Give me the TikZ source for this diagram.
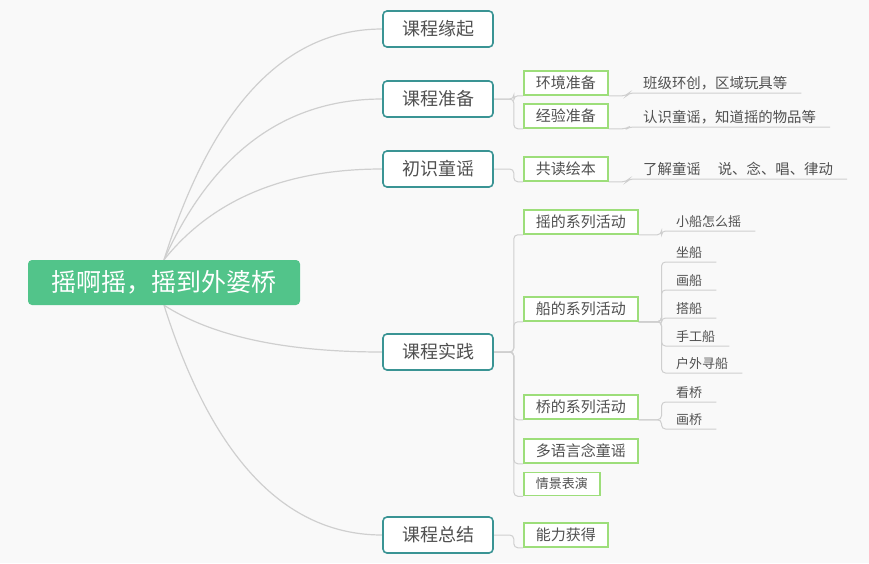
\documentclass[tikz,border=0pt]{standalone}
\usepackage{fontspec}
\setmainfont{Noto Sans CJK SC}
\usetikzlibrary{
  backgrounds,
  calc,
  positioning,
}
\definecolor{bggray}{RGB}{249, 249, 249}
\definecolor{rootgreen}{RGB}{82, 196, 138}
\definecolor{mapteal}{RGB}{58, 148, 148}
\definecolor{leafgreen}{RGB}{157, 222, 122}
\definecolor{linegray}{RGB}{207, 207, 207}
\definecolor{inkgray}{RGB}{80, 80, 80}
\tikzstyle{rootbox} = [
  fill=rootgreen,
  rounded corners=4pt,
  text=white,
  minimum width=272pt,
  minimum height=45pt,
  font=\fontsize{25pt}{25pt}\selectfont,
]
\tikzstyle{topic} = [
  draw=mapteal,
  line width=1.6pt,
  fill=white,
  rounded corners=4pt,
  minimum width=110pt,
  minimum height=36pt,
  text=inkgray,
  font=\fontsize{18pt}{18pt}\selectfont,
]
\tikzstyle{subtopic} = [
  draw=leafgreen,
  line width=1.5pt,
  fill=white,
  inner xsep=12pt,
  minimum height=24pt,
  anchor=west,
  text=inkgray,
  font=\fontsize{15pt}{15pt}\selectfont,
]
\tikzstyle{leaf} = [
  inner xsep=14pt,
  inner ysep=3pt,
  anchor=south west,
  text=inkgray,
  font=\fontsize{14.4pt}{14.4pt}\selectfont,
]
\tikzstyle{twigleaf} = [
  leaf,
  font=\fontsize{13pt}{13pt}\selectfont,
]
\tikzstyle{bough} = [
  linegray,
  line width=1.2pt,
  to path={let \p1=(\tikztostart), \p2=(\tikztotarget) in
    .. controls ({\x1+2/9*(\x2-\x1)}, {\y1+2/3*(\y2-\y1)})
    and ({\x2-4/9*(\x2-\x1)}, \y2) .. (\tikztotarget)},
]
\tikzstyle{twig} = [
  linegray,
  line width=1pt,
  rounded corners=4pt,
]

\begin{document}
\begin{tikzpicture}[x=1pt, y=-1pt]

        \useasboundingbox (0,0) rectangle (869,563);

        \node [rootbox] (root) at (164,282.5) {摇啊摇，摇到外婆桥};

        \node [topic] (origin) at (438,29) {课程缘起};
        \node [topic] (prep) at (438,99) {课程准备};
        \node [topic] (meet) at (438,169) {初识童谣};
        \node [topic] (prac) at (438,352) {课程实践};
        \node [topic] (sum) at (438,535) {课程总结};

        \node [subtopic] (env) at (523,83) {环境准备};
        \node [subtopic] (exp) at (523,116) {经验准备};
        \node [subtopic] (read) at (523,169) {共读绘本};
        \node [subtopic] (shake) at (523,222) {摇的系列活动};
        \node [subtopic] (boat) at (523,309) {船的系列活动};
        \node [subtopic] (bridge) at (523,407) {桥的系列活动};
        \node [subtopic] (rhyme) at (523,451) {多语言念童谣};
        \node [subtopic, minimum height=23pt,
               font=\fontsize{13pt}{13pt}\selectfont] (play) at (523,484) {情景表演};
        \node [subtopic] (skill) at (523,535) {能力获得};

        \node [leaf] (envt) at (629,93) {班级环创，区域玩具等};
        \node [leaf] (expt) at (629,127) {认识童谣，知道摇的物品等};
        \node [leaf] (readt) at (629,179) {了解童谣\hspace{17pt}说、念、唱、律动};

        \node [twigleaf] (howrow) at (662,231) {小船怎么摇};
        \node [twigleaf] (sit) at (662,262) {坐船};
        \node [twigleaf] (paint) at (662,290) {画船};
        \node [twigleaf] (build) at (662,318) {搭船};
        \node [twigleaf] (craft) at (662,346) {手工船};
        \node [twigleaf] (seek) at (662,373) {户外寻船};
        \node [twigleaf] (look) at (662,402) {看桥};
        \node [twigleaf] (sketch) at (662,429) {画桥};

        \begin{scope}[on background layer]
          \fill [bggray] (0,0) rectangle (869,563);

          \foreach \t in {origin,prep,meet} {
            \draw [bough] (root.north) to (\t.west);
          }
          \foreach \t in {prac,sum} {
            \draw [bough] (root.south) to (\t.west);
          }

          \foreach \t in {env,exp} {
            \draw [twig] (prep.east) -- ++(20,0) |- (\t.south west);
          }
          \draw [twig] (meet.east) -- ++(20,0) |- (read.south west);
          \foreach \t in {shake,boat,bridge,rhyme,play} {
            \draw [twig] (prac.east) -- ++(20,0) |- (\t.south west);
          }
          \draw [twig] (sum.east) -- ++(20,0) |- (skill.south west);

          \foreach \s/\t in {env/envt,exp/expt,read/readt} {
            \draw [twig] (\s.south east) -- ++(18,0) -- (\t.south west) -- (\t.south east);
          }
          \draw [twig] (shake.south east) -- ++(23,0) |- (howrow.south east);
          \foreach \t in {sit,paint,build,craft,seek} {
            \draw [twig] (boat.south east) -- ++(23,0) |- (\t.south east);
          }
          \foreach \t in {look,sketch} {
            \draw [twig] (bridge.south east) -- ++(23,0) |- (\t.south east);
          }
        \end{scope}
      \end{tikzpicture}
\end{document}
